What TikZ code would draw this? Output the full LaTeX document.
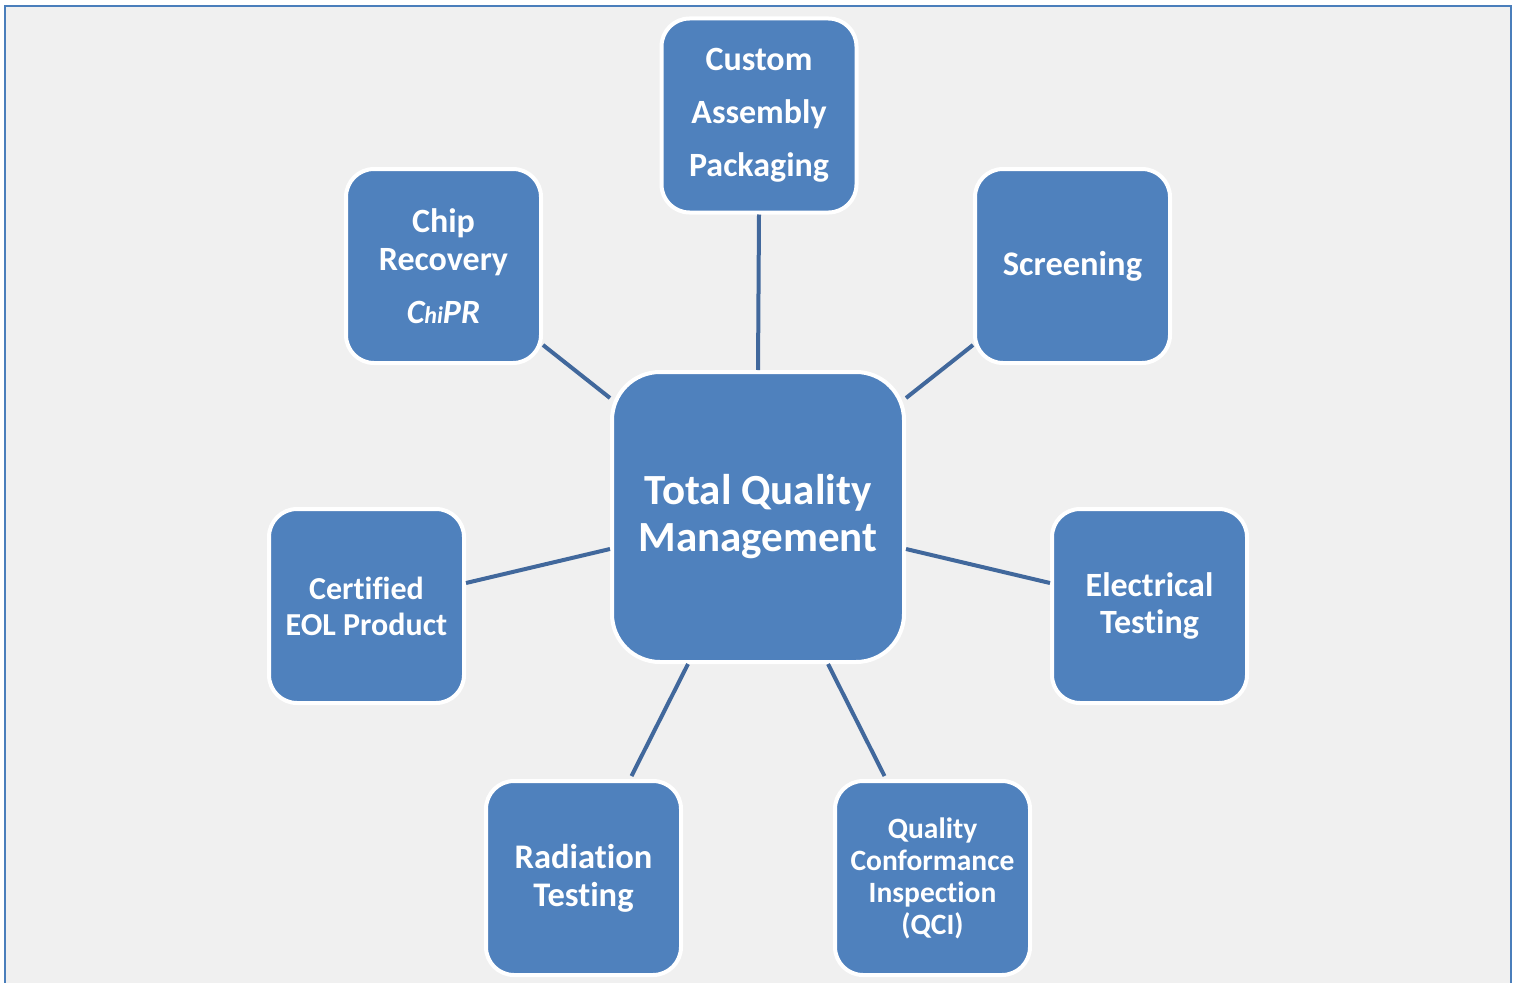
\documentclass[tikz,border=0pt]{standalone}
\usepackage{fontspec}
\setmainfont[Ligatures=NoCommon]{Carlito}
\usetikzlibrary{calc}
\definecolor{boxblue}{HTML}{4F81BD}
\definecolor{linkblue}{HTML}{41689C}
\definecolor{bggray}{HTML}{F0F0F0}
\definecolor{framecol}{HTML}{4A7EBB}
\begin{document}
\begin{tikzpicture}[x=1pt,y=-1pt,
  box/.style={draw=white, line width=4pt, fill=boxblue, rounded corners=28pt, text=white, align=center, inner sep=0pt, minimum width=195pt, minimum height=194pt},
  link/.style={draw=linkblue, line width=4pt}]
\useasboundingbox (0,0) rectangle (1517,982);
\fill[white] (0,0) rectangle (1517,982);
\fill[bggray] (5,6) rectangle (1511,990);
\draw[framecol, line width=2pt] (5,990) -- (5,6) -- (1511,6) -- (1511,990);

\node[box, minimum width=292pt, minimum height=290pt, rounded corners=48pt, font=\bfseries\fontsize{43}{47}\selectfont] (tqm) at (758,517) {Total Quality\\Management};
\node[box, font=\bfseries\fontsize{34}{53}\selectfont] (cap) at (759,115.5) {Custom\\Assembly\\Packaging};
\node[box, font=\bfseries\fontsize{34}{38}\selectfont] (chip) at (443.5,266) {Chip\\Recovery\\[15pt]{\itshape C{\fontsize{24}{24}\selectfont hi}PR}};
\node[box, font=\bfseries\fontsize{34.5}{38}\selectfont] (scr) at (1072.5,266) {Screening};
\node[box, font=\bfseries\fontsize{32}{36}\selectfont] (cert) at (366.5,606) {Certified\\EOL Product};
\node[box, font=\bfseries\fontsize{34}{37}\selectfont] (elec) at (1149.5,606) {Electrical\\Testing};
\node[box, font=\bfseries\fontsize{34.5}{38}\selectfont] (rad) at (583.5,878) {Radiation\\Testing};
\node[box, font=\bfseries\fontsize{29.5}{32}\selectfont] (qci) at (932.5,878) {Quality\\Conformance\\Inspection\\(QCI)};

\draw[link] (cap.south) -- (tqm.north);
\draw[link] ([yshift=20pt]chip.south east) -- ([yshift=-28pt]tqm.north west);
\draw[link] ([yshift=20pt]scr.south west) -- ([yshift=-28pt]tqm.north east);
\draw[link] ([yshift=23pt]cert.east) -- ([yshift=-32pt]tqm.west);
\draw[link] ([yshift=23pt]elec.west) -- ([yshift=-32pt]tqm.east);
\draw[link] ([xshift=48pt,yshift=3pt]rad.north) -- ([xshift=-70pt]tqm.south);
\draw[link] ([xshift=-48pt,yshift=3pt]qci.north) -- ([xshift=70pt]tqm.south);
\end{tikzpicture}
\end{document}
